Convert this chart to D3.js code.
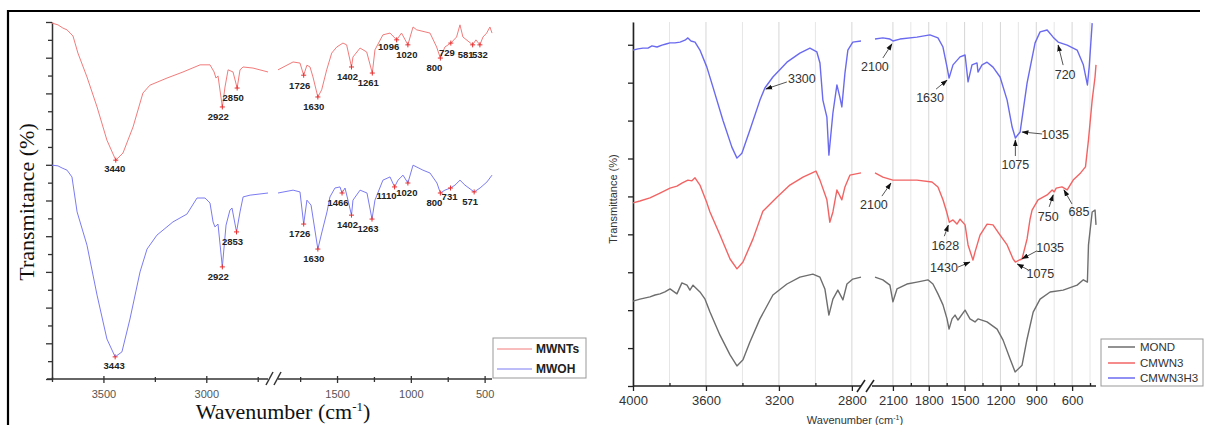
<!DOCTYPE html>
<html><head><meta charset="utf-8">
<script src="https://cdn.jsdelivr.net/npm/d3@7"></script>
<style>body{margin:0;background:#fff}svg{display:block}</style>
</head><body>
<svg id="c" width="1205" height="425"></svg>
<script>
// ---------------- DATA ----------------
// Left panel: [wavenumber, transmittance]
const mwnts = [[3750,99.7],[3721,99.2],[3697,98.3],[3677,97.8],[3662,96.9],[3648,96.1],[3638,94.1],[3624,91.3],[3580,84.6],[3531,76.2],[3483,66.9],[3440,61.3],[3405,63.3],[3356,70.6],[3308,80.1],[3274,82.3],[3191,84.3],[3113,86.0],[3030,88.0],[2982,88.0],[2962,86.0],[2953,84.3],[2943,84.9],[2922,76.2],[2909,81.8],[2894,86.6],[2870,86.0],[2850,81.5],[2836,86.6],[2821,87.4],[2773,87.1],[2700,86.0],
[1900,86.6],[1798,88.8],[1751,88.5],[1726,85.1],[1704,87.9],[1683,87.4],[1663,84.6],[1630,79.0],[1604,81.0],[1570,86.6],[1536,91.3],[1502,93.0],[1460,94.1],[1435,93.6],[1402,87.4],[1392,90.2],[1344,92.7],[1299,91.6],[1261,85.7],[1243,92.2],[1189,96.4],[1141,96.9],[1096,95.0],[1063,96.9],[1020,93.6],[985,98.6],[960,97.8],[870,96.9],[825,93.0],[800,89.9],[769,93.0],[729,94.1],[690,95.8],[667,99.2],[647,95.8],[581,93.6],[559,95.0],[532,93.6],[511,95.8],[486,96.9],[464,98.6],[450,96.9]];
const mwoh = [[3750,59.9],[3721,59.7],[3701,59.1],[3677,58.5],[3653,56.6],[3628,46.8],[3580,37.5],[3531,23.5],[3483,11.2],[3443,6.2],[3410,7.6],[3371,16.8],[3322,30.0],[3288,36.4],[3240,40.3],[3162,44.0],[3094,46.2],[3045,50.7],[3006,50.7],[2982,49.3],[2967,44.0],[2958,42.6],[2943,43.4],[2922,31.4],[2904,43.1],[2885,47.3],[2875,47.9],[2853,41.2],[2836,46.8],[2821,51.0],[2787,51.5],[2700,52.1],
[1900,52.1],[1798,52.9],[1751,52.4],[1726,43.4],[1704,50.1],[1676,48.7],[1630,36.4],[1602,41.2],[1568,46.8],[1548,51.0],[1514,53.5],[1480,53.8],[1466,52.1],[1446,53.5],[1426,50.1],[1402,45.9],[1392,50.1],[1344,52.9],[1297,52.1],[1263,44.8],[1243,50.1],[1189,55.7],[1141,56.6],[1110,53.8],[1087,55.7],[1053,57.1],[1020,54.9],[985,59.9],[918,58.5],[870,57.7],[823,54.9],[800,52.1],[769,52.9],[731,53.5],[701,54.3],[667,55.7],[633,54.3],[571,52.4],[531,53.5],[484,55.2],[450,57.1]];
const mwntsPeaks = [3440,2922,2850,1726,1630,1402,1261,1096,1020,800,729,581,532];
const mwohPeaks = [3443,2922,2853,1726,1630,1466,1402,1263,1110,1020,800,731,571];
const leftSeriesNames = ["MWNTs","MWOH"];
const leftMajorTicks = [3500,3000,1500,1000,500];
const leftMinorTicks = [3750,3250,2750,1750,1250,750];

// Right panel: [wavenumber, transmittance]
const cmwn3h3 = [[4000,88.6],[3973,88.9],[3945,89.1],[3918,89.1],[3896,89.7],[3868,89.4],[3841,89.9],[3819,90.2],[3797,90.5],[3770,90.5],[3742,90.7],[3715,91.2],[3699,91.8],[3682,91.0],[3660,90.7],[3633,88.6],[3595,84.1],[3562,78.9],[3507,70.1],[3458,63.0],[3430,60.1],[3403,61.4],[3359,67.5],[3304,75.4],[3277,78.6],[3233,81.5],[3156,85.4],[3085,87.8],[3030,89.1],[2992,88.1],[2975,85.2],[2959,75.4],[2937,70.9],[2926,60.9],[2904,72.0],[2882,79.4],[2866,76.2],[2855,73.6],[2838,82.5],[2822,88.6],[2795,90.7],[2750,91.0],
[2250,91.5],[2184,91.8],[2125,91.5],[2100,91.0],[2041,91.5],[1899,92.0],[1790,92.6],[1723,91.8],[1681,89.4],[1647,84.1],[1630,81.2],[1597,84.7],[1538,86.8],[1496,87.3],[1471,80.2],[1438,84.7],[1396,85.2],[1388,82.8],[1354,84.7],[1312,85.4],[1262,84.1],[1203,81.5],[1144,75.4],[1102,68.3],[1075,65.4],[1035,67.0],[977,79.9],[910,90.5],[868,93.4],[809,93.9],[759,92.0],[717,90.7],[641,89.9],[558,88.6],[506,84.7],[472,79.4],[457,84.1],[432,95.7]];
const cmwn3 = [[4000,48.3],[3962,48.8],[3907,49.6],[3852,50.9],[3797,52.2],[3759,52.7],[3732,53.5],[3699,54.3],[3677,54.1],[3660,54.9],[3633,53.0],[3595,48.3],[3578,45.9],[3523,39.8],[3468,33.5],[3430,30.9],[3397,32.7],[3342,38.8],[3288,46.1],[3211,49.8],[3140,53.0],[3068,55.1],[2997,56.7],[2975,54.3],[2937,49.1],[2921,43.2],[2904,45.9],[2882,51.7],[2855,49.1],[2838,52.5],[2811,55.6],[2750,56.2],
[2250,56.2],[2184,55.1],[2100,54.3],[1899,54.3],[1773,53.8],[1723,52.5],[1681,49.1],[1650,45.9],[1628,43.2],[1597,43.8],[1564,42.7],[1538,44.0],[1496,42.5],[1471,37.2],[1430,33.2],[1413,35.3],[1371,39.8],[1312,42.7],[1262,42.5],[1203,39.8],[1144,37.2],[1094,33.5],[1075,32.7],[1035,33.3],[1019,33.5],[977,38.8],[952,44.0],[935,46.4],[885,49.1],[809,50.4],[767,51.7],[750,51.2],[733,52.2],[685,52.5],[641,51.7],[591,54.3],[529,56.2],[488,57.8],[463,64.9],[432,75.4],[408,81.5],[400,84.7]];
const mond = [[4000,22.4],[3962,22.9],[3907,23.5],[3879,24.0],[3852,24.3],[3825,24.8],[3797,25.6],[3759,24.3],[3732,27.2],[3704,26.6],[3688,25.3],[3671,26.6],[3633,24.8],[3605,22.9],[3578,19.5],[3523,13.4],[3468,8.2],[3430,5.3],[3397,6.9],[3359,11.6],[3304,17.7],[3233,24.0],[3156,26.9],[3085,28.7],[3014,29.5],[2975,28.7],[2948,25.6],[2926,18.7],[2904,22.9],[2877,25.3],[2849,22.7],[2827,26.9],[2795,28.2],[2750,28.7],
[2250,28.7],[2184,28.0],[2125,26.6],[2100,22.2],[2066,25.6],[1983,26.9],[1899,27.4],[1807,28.0],[1765,26.9],[1723,24.3],[1681,21.4],[1647,17.7],[1630,15.0],[1605,17.7],[1580,18.7],[1555,17.4],[1496,20.0],[1455,17.7],[1413,16.9],[1388,17.7],[1312,16.9],[1228,15.0],[1178,12.1],[1119,7.1],[1077,3.7],[1019,5.5],[977,12.4],[926,19.5],[868,22.9],[784,24.8],[675,25.3],[558,26.6],[506,28.0],[472,27.4],[463,37.2],[432,45.9],[408,46.4],[400,42.5]];
const rightSeriesNames = ["MOND","CMWN3","CMWN3H3"];
// annotations: [label, wavenumber, series]
const rightAnnotations = [["3300",3277,"CMWN3H3"],["2100",2100,"CMWN3H3"],["1630",1630,"CMWN3H3"],["1075",1075,"CMWN3H3"],["1035",1035,"CMWN3H3"],["720",717,"CMWN3H3"],
 ["2100",2100,"CMWN3"],["1628",1628,"CMWN3"],["1430",1430,"CMWN3"],["1075",1075,"CMWN3"],["1035",1035,"CMWN3"],["750",750,"CMWN3"],["685",685,"CMWN3"]];
const rightMajorTicks = [4000,3600,3200,2800,2100,1800,1500,1200,900,600];
const rightMinorTicks = [3800,3400,3000,1950,1650,1350,1050,750,450];

// ---------------- LAYOUT ----------------
const svg = d3.select("#c");
svg.append("defs").append("marker").attr("id","ah").attr("viewBox","0 0 10 10")
  .attr("refX",9).attr("refY",5).attr("markerWidth",7).attr("markerHeight",7).attr("orient","auto")
  .append("path").attr("d","M0,1.5L10,5L0,8.5z").attr("fill","#111");

// frame
svg.append("line").attr("x1",8).attr("x2",1200).attr("y1",11).attr("y2",11).attr("stroke","#000").attr("stroke-width",2.2);
svg.append("line").attr("x1",8).attr("x2",8).attr("y1",10).attr("y2",425).attr("stroke","#000").attr("stroke-width",2.2);

function valueAt(data, w){
  for(let i=0;i<data.length-1;i++){
    const a=data[i], b=data[i+1];
    if((a[0]>=w && b[0]<=w)){
      if(a[0]===b[0]) return a[1];
      const t=(a[0]-w)/(a[0]-b[0]);
      return a[1]+t*(b[1]-a[1]);
    }
  }
  return data[data.length-1][1];
}

// ===== LEFT PANEL =====
const xL1 = d3.scaleLinear().domain([3750,2700]).range([52,268]);
const xL2 = d3.scaleLinear().domain([1900,450]).range([278,492]);
const yL = d3.scaleLinear().domain([0,100]).range([379,22]);
const xLeft = w => w>=2300 ? xL1(w) : xL2(w);
const gL = svg.append("g");

// y axis
const yAxL = d3.axisLeft(yL).tickValues(d3.range(0,101,5)).tickFormat("").tickSizeOuter(0);
const gyL = gL.append("g").attr("transform","translate(52,0)").call(yAxL);
gyL.select(".domain").attr("stroke","#333").attr("stroke-width",1.5);
gyL.selectAll(".tick line").attr("stroke","#333").attr("stroke-width",1.3)
  .attr("x2",d=> d%10===0 ? -6 : -4);

// x axis (two segments)
function leftXAxis(scale){
  const inD = v=> v<=scale.domain()[0] && v>=scale.domain()[1];
  const ax = d3.axisBottom(scale).tickValues(leftMajorTicks.filter(inD)).tickSize(4).tickSizeOuter(0).tickPadding(7).tickFormat(d3.format("d"));
  const g = gL.append("g").attr("transform","translate(0,379)").call(ax);
  g.select(".domain").remove();
  g.selectAll(".tick line").attr("stroke","#333").attr("stroke-width",1.3).attr("y1",-3);
  g.selectAll(".tick text").attr("font-family","Arial, 'Liberation Sans', sans-serif").attr("font-size",11).attr("fill","#555");
  const ax2 = d3.axisBottom(scale).tickValues(leftMinorTicks.filter(inD)).tickSize(3).tickFormat("").tickSizeOuter(0);
  const g2 = gL.append("g").attr("transform","translate(0,379)").call(ax2);
  g2.select(".domain").remove();
  g2.selectAll(".tick line").attr("stroke","#333").attr("stroke-width",1.3).attr("y1",-2);
}
leftXAxis(xL1); leftXAxis(xL2);
gL.append("line").attr("x1",47).attr("x2",268).attr("y1",379).attr("y2",379).attr("stroke","#333").attr("stroke-width",1.5);
gL.append("line").attr("x1",278).attr("x2",492).attr("y1",379).attr("y2",379).attr("stroke","#333").attr("stroke-width",1.5);
[[266,273],[274,281]].forEach(([a,b])=>{
  gL.append("line").attr("x1",a).attr("y1",385).attr("x2",b).attr("y2",372).attr("stroke","#333").attr("stroke-width",1.5);
});

// curves
function drawBroken(g, data, split, xa, xb, y, color, width){
  const line = d3.line().x(d=> d[0]>=split ? xa(d[0]) : xb(d[0])).y(d=>y(d[1]));
  [data.filter(d=>d[0]>=split), data.filter(d=>d[0]<split)].forEach(seg=>{
    g.append("path").datum(seg).attr("d",line).attr("fill","none").attr("stroke",color)
     .attr("stroke-width",width).attr("stroke-linejoin","round");
  });
}
const cRed="#f27b7b", cBlue="#7b7bf2";
drawBroken(gL, mwnts, 2300, xL1, xL2, yL, cRed, 1);
drawBroken(gL, mwoh, 2300, xL1, xL2, yL, cBlue, 1);

// peak markers and labels (label offsets are layout only)
const leftLabelOffset = {3440:[-1,9],3443:[-1,9],1096:[-8,7],1110:[-8,9],1020:[-1,10],800:[-6,10],731:[-1,9],581:[-7,10],532:[0,10]};
function peaks(data, list){
  list.forEach(w=>{
    const px = xLeft(w), py = yL(valueAt(data,w));
    gL.append("path").attr("d",`M${px-2.5},${py}H${px+2.5}M${px},${py-2.5}V${py+2.5}`).attr("stroke","#e83030").attr("stroke-width",1);
    const o = leftLabelOffset[w] || [-4,10];
    gL.append("text").attr("x",px+o[0]).attr("y",py+o[1]).attr("dy","0.35em").attr("text-anchor","middle")
      .attr("font-family","Arial, 'Liberation Sans', sans-serif").attr("font-weight","bold").attr("font-size",9.5).attr("fill","#222").text(w);
  });
}
peaks(mwnts, mwntsPeaks);
peaks(mwoh, mwohPeaks);

// axis titles
gL.append("text").attr("transform","translate(34,202) rotate(-90)").attr("text-anchor","middle")
  .attr("font-family","'Liberation Serif', 'Times New Roman', serif").attr("font-size",22).attr("fill","#111").text("Transmitance (%)");
const wt = gL.append("text").attr("x",283).attr("y",419).attr("text-anchor","middle")
  .attr("font-family","'Liberation Serif', 'Times New Roman', serif").attr("font-size",22).attr("fill","#111");
wt.append("tspan").text("Wavenumber (cm");
wt.append("tspan").attr("dy",-8).attr("font-size",13).text("-1");
wt.append("tspan").attr("dy",8).text(")");

// legend
const lg = gL.append("g");
lg.append("rect").attr("x",493).attr("y",338).attr("width",93).attr("height",40).attr("fill","#fff").attr("stroke","#999");
[[cRed,349],[cBlue,369]].forEach(([c,y],i)=>{
  lg.append("line").attr("x1",497).attr("x2",532).attr("y1",y).attr("y2",y).attr("stroke",c).attr("stroke-width",1);
  lg.append("text").attr("x",536).attr("y",y).attr("dy","0.35em").attr("font-family","Arial, 'Liberation Sans', sans-serif")
    .attr("font-weight","bold").attr("font-size",12).attr("fill","#222").text(leftSeriesNames[i]);
});

// ===== RIGHT PANEL =====
const xR1 = d3.scaleLinear().domain([4000,2750]).range([633,861]);
const xR2 = d3.scaleLinear().domain([2250,400]).range([875,1096]);
const yR = d3.scaleLinear().domain([0,96]).range([386,22]);
const xRight = w => w>=2500 ? xR1(w) : xR2(w);
const gR = svg.append("g");

// grid
rightMajorTicks.concat(rightMinorTicks).forEach(w=>{
  const major = rightMajorTicks.includes(w);
  gR.append("line").attr("x1",xRight(w)).attr("x2",xRight(w)).attr("y1",22).attr("y2",386)
    .attr("stroke", major ? "#d6d6d6" : "#e6e6e6").attr("stroke-width",1);
});

// y axis
const yAxR = d3.axisLeft(yR).tickValues(d3.range(0,91,10)).tickFormat("").tickSize(5).tickSizeOuter(0);
const gyR = gR.append("g").attr("transform","translate(633,0)").call(yAxR);
gyR.select(".domain").attr("stroke","#222").attr("stroke-width",1.6);
gyR.selectAll(".tick line").attr("stroke","#222").attr("stroke-width",1.3);

function rightXAxis(scale){
  const inD = v=> v<=scale.domain()[0] && v>=scale.domain()[1];
  const ax = d3.axisBottom(scale).tickValues(rightMajorTicks.filter(inD)).tickSize(5).tickPadding(5).tickSizeOuter(0).tickFormat(d3.format("d"));
  const g = gR.append("g").attr("transform","translate(0,386)").call(ax);
  g.select(".domain").remove();
  g.selectAll(".tick line").attr("stroke","#222").attr("stroke-width",1.3);
  g.selectAll(".tick text").attr("font-family","Arial, 'Liberation Sans', sans-serif").attr("font-size",13).attr("fill","#333");
  const ax2 = d3.axisBottom(scale).tickValues(rightMinorTicks.filter(inD)).tickSize(3).tickFormat("").tickSizeOuter(0);
  const g2 = gR.append("g").attr("transform","translate(0,386)").call(ax2);
  g2.select(".domain").remove();
  g2.selectAll(".tick line").attr("stroke","#222").attr("stroke-width",1.3).attr("y1",-3).attr("y2",0);
}
rightXAxis(xR1); rightXAxis(xR2);
gR.append("line").attr("x1",633).attr("x2",861).attr("y1",386).attr("y2",386).attr("stroke","#222").attr("stroke-width",1.6);
gR.append("line").attr("x1",872).attr("x2",1096).attr("y1",386).attr("y2",386).attr("stroke","#222").attr("stroke-width",1.6);
[[857,865],[866,874]].forEach(([a,b])=>{
  gR.append("line").attr("x1",a).attr("y1",392).attr("x2",b).attr("y2",380).attr("stroke","#222").attr("stroke-width",1.5);
});

const cR_gray="#6e6e6e", cR_red="#f26464", cR_blue="#6a6af0";
drawBroken(gR, mond, 2500, xR1, xR2, yR, cR_gray, 1.4);
drawBroken(gR, cmwn3, 2500, xR1, xR2, yR, cR_red, 1.4);
drawBroken(gR, cmwn3h3, 2500, xR1, xR2, yR, cR_blue, 1.4);

// annotations: layout offsets [textDx, textDy, arrowStartDx, arrowStartDy, arrowEndDx, arrowEndDy]
const annLayout = [
  [37,-9, 22,-6, 1,1],
  [-18,26, -10,17, -1,3],
  [-19,20, -13,11, -2,2],
  [0,27, 0,18, 0,2],
  [35,3, 22,2, 2,0],
  [7,33, 5,23, 0,3],
  [-19,25, -11,16, -2,3],
  [-4,23, -5,14, -1,3],
  [-29,8, -15,7, -3,2],
  [25,12, 13,8, 2,2],
  [30,-12, 17,-9, 2,-1],
  [-6,25, -5,15, -1,3],
  [17,25, 10,17, 2,3]
];
const seriesData = {"CMWN3H3":cmwn3h3, "CMWN3":cmwn3};
rightAnnotations.forEach((a,i)=>{
  const [label,w,s] = a, L = annLayout[i];
  const px = xRight(w), py = yR(valueAt(seriesData[s], w));
  gR.append("line").attr("x1",px+L[2]).attr("y1",py+L[3]).attr("x2",px+L[4]).attr("y2",py+L[5])
    .attr("stroke","#555").attr("stroke-width",1).attr("marker-end","url(#ah)");
  gR.append("text").attr("x",px+L[0]).attr("y",py+L[1]).attr("dy","0.35em").attr("text-anchor","middle")
    .attr("font-family","Arial, 'Liberation Sans', sans-serif").attr("font-size",12.5).attr("fill","#333").text(label);
});

// titles
gR.append("text").attr("transform","translate(617,199) rotate(-90)").attr("text-anchor","middle")
  .attr("font-family","Arial, 'Liberation Sans', sans-serif").attr("font-size",11).attr("fill","#333").text("Transmittance (%)");
const wt2 = gR.append("text").attr("x",855).attr("y",424).attr("text-anchor","middle")
  .attr("font-family","Arial, 'Liberation Sans', sans-serif").attr("font-size",11).attr("fill","#333");
wt2.append("tspan").text("Wavenumber (cm");
wt2.append("tspan").attr("dy",-4).attr("font-size",7).text("-1");
wt2.append("tspan").attr("dy",4).text(")");

// legend
const lg2 = gR.append("g");
lg2.append("rect").attr("x",1101).attr("y",339).attr("width",102).attr("height",47).attr("fill","#fff").attr("stroke","#999");
[[cR_gray,347],[cR_red,363],[cR_blue,378]].forEach(([c,y],i)=>{
  lg2.append("line").attr("x1",1108).attr("x2",1135).attr("y1",y).attr("y2",y).attr("stroke",c).attr("stroke-width",1.5);
  lg2.append("text").attr("x",1140).attr("y",y).attr("dy","0.35em").attr("font-family","Arial, 'Liberation Sans', sans-serif")
    .attr("font-size",11.5).attr("fill","#333").text(rightSeriesNames[i]);
});
</script>
</body></html>
